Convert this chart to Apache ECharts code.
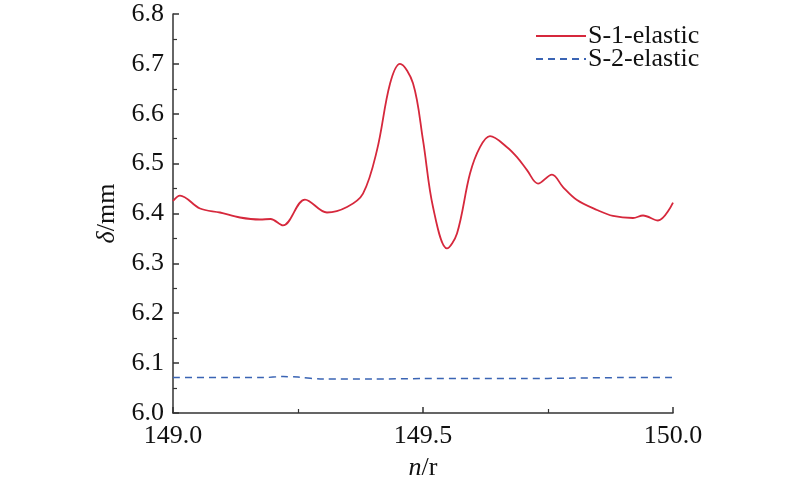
<!DOCTYPE html>
<html>
<head>
<meta charset="utf-8">
<script src="https://cdn.jsdelivr.net/npm/echarts@6/dist/echarts.min.js"></script>
<style>
  html, body { margin: 0; padding: 0; background: #fff; }
  #chart { width: 800px; height: 483px; }
</style>
</head>
<body>
<div id="chart"></div>
<script>
// 转速 n/r
const s1X = [149.0, 149.014, 149.054, 149.094, 149.134, 149.174, 149.195, 149.22, 149.264, 149.308, 149.348, 149.38, 149.408, 149.434, 149.454, 149.48, 149.5, 149.52, 149.548, 149.568, 149.594, 149.614, 149.634, 149.668, 149.688, 149.708, 149.73, 149.758, 149.78, 149.808, 149.848, 149.88, 149.92, 149.94, 149.97, 150.0]
// 位移 δ/mm
const s1Y = [6.425, 6.436, 6.41, 6.402, 6.392, 6.388, 6.389, 6.376, 6.428, 6.402, 6.413, 6.44, 6.527, 6.66, 6.70, 6.661, 6.547, 6.413, 6.33, 6.36, 6.48, 6.533, 6.555, 6.533, 6.513, 6.487, 6.46, 6.478, 6.453, 6.427, 6.407, 6.395, 6.391, 6.396, 6.386, 6.422]

const s2X = [149.0, 149.1, 149.18, 149.22, 149.25, 149.3, 149.4, 149.5, 149.6, 149.7, 149.8, 149.9, 150.0]
const s2Y = [6.071, 6.071, 6.071, 6.073, 6.072, 6.068, 6.068, 6.069, 6.069, 6.069, 6.070, 6.071, 6.071]

const seriesNames = ['S-1-elastic', 'S-2-elastic']
const xTicks = [149.0, 149.5, 150.0]

const axisColor = '#333'
const font = '"Liberation Serif", "Times New Roman", serif'
const fs = 26

const chart = echarts.init(document.getElementById('chart'))

chart.setOption({
  animation: false,
  grid: { left: 173, right: 127, top: 14, bottom: 70, containLabel: false, outerBoundsMode: 'none' },
  legend: {
    orient: 'vertical',
    left: 530,
    top: 18,
    itemWidth: 50,
    itemHeight: 10,
    itemGap: -3,
    itemStyle: { opacity: 0 },
    textStyle: { fontFamily: font, fontSize: fs, color: '#111', padding: [0, 0, 0, -3] },
    data: seriesNames
  },
  xAxis: {
    type: 'value',
    min: 149,
    max: 150,
    interval: 0.5,
    name: '{i|n}/r',
    nameLocation: 'middle',
    nameGap: 42,
    nameTextStyle: {
      fontFamily: font, fontSize: fs, color: '#111',
      rich: { i: { fontFamily: font, fontSize: fs, fontStyle: 'italic', color: '#111' } }
    },
    axisLine: { lineStyle: { color: axisColor, width: 1.5 } },
    axisTick: { inside: true, length: 6, lineStyle: { color: axisColor, width: 1.5 } },
    minorTick: { show: true, splitNumber: 2, length: 4, lineStyle: { color: axisColor, width: 1.2 } },
    axisLabel: {
      fontFamily: font, fontSize: fs, color: '#111', margin: 10,
      formatter: v => xTicks.includes(v) ? v.toFixed(1) : ''
    },
    splitLine: { show: false }
  },
  yAxis: {
    type: 'value',
    min: 6.0,
    max: 6.8,
    interval: 0.1,
    name: '{i|δ}/mm',
    nameLocation: 'middle',
    nameGap: 52,
    nameTextStyle: {
      fontFamily: font, fontSize: fs, color: '#111',
      rich: { i: { fontFamily: font, fontSize: fs, fontStyle: 'italic', color: '#111' } }
    },
    axisLine: { show: true, lineStyle: { color: axisColor, width: 1.5 } },
    axisTick: { show: true, inside: true, length: 6, lineStyle: { color: axisColor, width: 1.5 } },
    minorTick: { show: true, splitNumber: 2, length: 4, lineStyle: { color: axisColor, width: 1.2 } },
    axisLabel: {
      fontFamily: font, fontSize: fs, color: '#111', margin: 9,
      formatter: v => v.toFixed(1)
    },
    splitLine: { show: false }
  },
  series: [
    {
      name: seriesNames[0],
      type: 'line',
      smooth: 0.35,
      showSymbol: false,
      symbol: 'none',
      color: '#d6283c',
      lineStyle: { color: '#d6283c', width: 1.8 },
      data: s1X.map((x, i) => [x, s1Y[i]])
    },
    {
      name: seriesNames[1],
      type: 'line',
      smooth: 0.3,
      showSymbol: false,
      symbol: 'none',
      color: '#3a64b4',
      lineStyle: { color: '#3a64b4', width: 1.5, type: [7, 5] },
      data: s2X.map((x, i) => [x, s2Y[i]])
    }
  ]
})
</script>
</body>
</html>
